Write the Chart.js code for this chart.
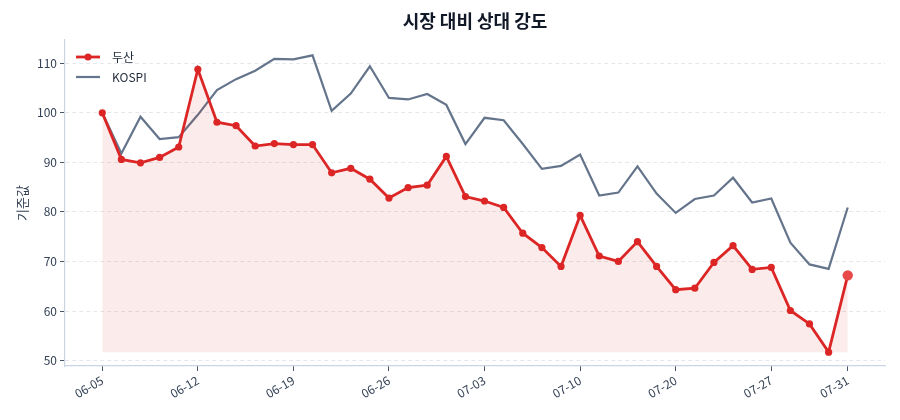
<!DOCTYPE html>
<html>
<head>
<meta charset="utf-8">
<script src="https://cdn.jsdelivr.net/npm/chart.js@4.4.1/dist/chart.umd.min.js"></script>
<style>
html, body { margin: 0; background: #fff; }
#wrap { width: 900px; height: 420px; }
</style>
</head>
<body>
<div id="wrap"><canvas id="chart"></canvas></div>
<script>
const dates = [
  '06-05','06-06','06-07','06-08','06-09',
  '06-12','06-13','06-14','06-15','06-16',
  '06-19','06-20','06-21','06-22','06-23',
  '06-26','06-27','06-28','06-29','06-30',
  '07-03','07-04','07-05','07-06','07-07',
  '07-10','07-11','07-12','07-13','07-14',
  '07-20','07-21','07-24','07-25','07-26',
  '07-27','07-28','07-29','07-30','07-31'
];
const doosan = [100.0, 90.6, 89.9, 91.0, 93.1, 108.8, 98.1, 97.4, 93.3, 93.8,
  93.6, 93.6, 87.9, 88.8, 86.6, 82.8, 84.9, 85.4, 91.2, 83.1,
  82.2, 80.9, 75.7, 72.8, 69.0, 79.3, 71.1, 70.0, 74.0, 69.0,
  64.3, 64.6, 69.8, 73.2, 68.4, 68.8, 60.1, 57.4, 51.7, 67.2];
const kospi = [100.0, 91.8, 99.2, 94.7, 95.1, 99.6, 104.6, 106.8, 108.5, 110.9,
  110.8, 111.6, 100.4, 103.9, 109.4, 103.0, 102.7, 103.8, 101.6, 93.7,
  99.0, 98.5, 93.7, 88.7, 89.3, 91.6, 83.3, 83.9, 89.2, 83.7,
  79.8, 82.6, 83.3, 86.9, 81.9, 82.7, 73.8, 69.4, 68.5, 80.9];
const tickIdx = [0, 5, 10, 15, 20, 25, 30, 35, 39];
const yTicks = [50, 60, 70, 80, 90, 100, 110];
const chartTitle = '시장 대비 상대 강도';

const FONT = "'Noto Sans CJK KR', 'Noto Sans', sans-serif";
const RED = '#dc2626';
const SLATE = '#64748b';
const lastIdx = doosan.length - 1;

// title centred over the plot area, legend inside the plot top-left
const overlay = {
  id: 'overlay',
  afterDatasetsDraw(chart) {
    const { ctx, chartArea } = chart;
    ctx.save();
    ctx.font = 'bold 18px ' + FONT;
    ctx.fillStyle = '#111827';
    ctx.textAlign = 'center';
    ctx.textBaseline = 'middle';
    ctx.fillText(chartTitle, (chartArea.left + chartArea.right) / 2, 21);

    const x0 = chartArea.left + 11, x1 = chartArea.left + 35;
    const items = [
      { label: '두산', color: RED, width: 2.8, dot: true },
      { label: 'KOSPI', color: SLATE, width: 2.2, dot: false }
    ];
    ctx.font = '12px ' + FONT;
    ctx.textAlign = 'left';
    items.forEach((it, i) => {
      const y = chartArea.top + 17 + i * 20;
      ctx.strokeStyle = it.color;
      ctx.lineWidth = it.width;
      ctx.beginPath();
      ctx.moveTo(x0, y);
      ctx.lineTo(x1, y);
      ctx.stroke();
      if (it.dot) {
        ctx.fillStyle = it.color;
        ctx.beginPath();
        ctx.arc((x0 + x1) / 2, y, 3.5, 0, Math.PI * 2);
        ctx.fill();
      }
      ctx.fillStyle = '#1f2937';
      ctx.fillText(it.label, chartArea.left + 47, y);
    });
    ctx.restore();
  }
};

new Chart(document.getElementById('chart'), {
  type: 'line',
  data: {
    datasets: [
      {
        label: 'KOSPI',
        data: kospi.map((v, i) => ({ x: i, y: v })),
        borderColor: SLATE,
        borderWidth: 2.2,
        pointRadius: 0,
        fill: false,
        tension: 0,
        order: 2
      },
      {
        label: '두산',
        data: doosan.map((v, i) => ({ x: i, y: v })),
        borderColor: RED,
        borderWidth: 2.8,
        pointRadius: ctx => ctx.dataIndex === lastIdx ? 5.2 : 3.6,
        pointBackgroundColor: ctx => ctx.dataIndex === lastIdx ? '#e84848' : RED,
        pointBorderWidth: 0,
        fill: { value: Math.min(...doosan) },
        backgroundColor: 'rgba(220, 38, 38, 0.09)',
        tension: 0,
        order: 1
      }
    ]
  },
  options: {
    responsive: true,
    maintainAspectRatio: false,
    animation: false,
    layout: { padding: { left: 0, right: 15, top: 40, bottom: 0 } },
    plugins: {
      legend: { display: false },
      tooltip: { enabled: false },
      title: { display: false }
    },
    scales: {
      x: {
        type: 'linear',
        min: -1.95,
        max: 40.95,
        afterBuildTicks: scale => { scale.ticks = tickIdx.map(v => ({ value: v })); },
        afterFit: scale => { scale.height = 54; },
        ticks: {
          callback: v => dates[v],
          minRotation: 30,
          maxRotation: 30,
          color: '#334155',
          font: { family: FONT, size: 12 },
          padding: 2
        },
        grid: {
          drawOnChartArea: false,
          drawTicks: true,
          tickLength: 5,
          tickColor: '#475569'
        },
        border: { color: '#cbd5e1', width: 1.2 }
      },
      y: {
        min: 48.9,
        max: 114.7,
        afterBuildTicks: scale => { scale.ticks = yTicks.map(v => ({ value: v })); },
        afterFit: scale => { scale.width = 65; },
        ticks: {
          color: '#334155',
          font: { family: FONT, size: 12 },
          padding: 3
        },
        grid: {
          color: '#e5e7eb',
          tickBorderDash: [10, 0],
          tickLength: 5,
          tickColor: '#475569'
        },
        border: { color: '#cbd5e1', width: 1.2, dash: [4, 3] },
        title: {
          display: true,
          text: '기준값',
          color: '#334155',
          font: { family: FONT, size: 13 },
          padding: { top: 14, bottom: 0 }
        }
      }
    }
  },
  plugins: [overlay]
});
</script>
</body>
</html>
